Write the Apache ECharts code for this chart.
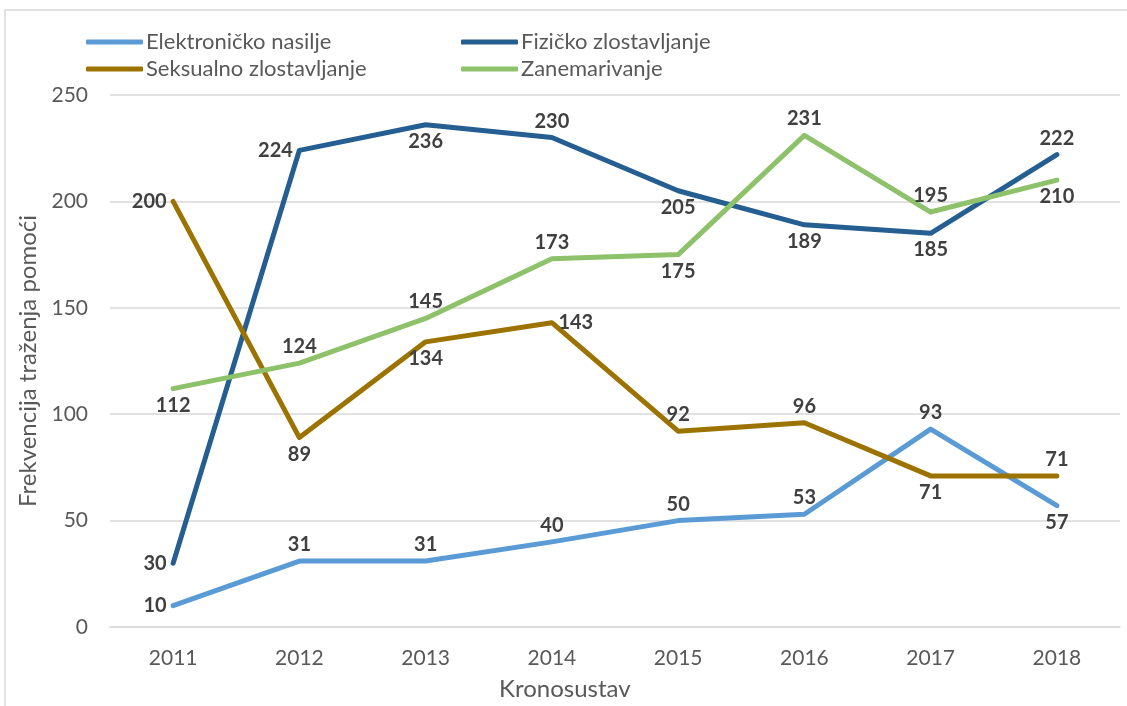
<!DOCTYPE html>
<html>
<head>
<meta charset="utf-8">
<script src="https://cdn.jsdelivr.net/npm/echarts@6/dist/echarts.min.js"></script>
<style>
  html, body { margin: 0; padding: 0; background: #fff; }
  #chart { width: 1127px; height: 706px; }
</style>
</head>
<body>
<div id="chart"></div>
<script>
const years = ['2011', '2012', '2013', '2014', '2015', '2016', '2017', '2018']
const yTicks = [0, 50, 100, 150, 200, 250]

const seriesNames = ['Elektroničko nasilje', 'Fizičko zlostavljanje', 'Seksualno zlostavljanje', 'Zanemarivanje']
const elektronicko = [10, 31, 31, 40, 50, 53, 93, 57]
const fizicko = [30, 224, 236, 230, 205, 189, 185, 222]
const seksualno = [200, 89, 134, 143, 92, 96, 71, 71]
const zanemarivanje = [112, 124, 145, 173, 175, 231, 195, 210]

// gdje stoji oznaka vrijednosti kod svake točke
const posElektronicko = ['left', 'top', 'top', 'top', 'top', 'top', 'top', 'bottom']
const posFizicko = ['left', 'left', 'bottom', 'top', 'bottom', 'bottom', 'bottom', 'top']
const posSeksualno = ['left', 'bottom', 'bottom', 'right', 'top', 'top', 'bottom', 'top']
const posZanemarivanje = ['bottom', 'top', 'top', 'top', 'bottom', 'top', 'top', 'bottom']

const colors = ['#5B9BD5', '#255E91', '#9C7300', '#8DC16A']
const font = 'Lato, "Open Sans", sans-serif'

const makeSeries = (name, values, positions, color) => ({
  name: name,
  type: 'line',
  data: values.map((v, i) => ({ value: v, label: { position: positions[i] } })),
  symbol: 'circle',
  symbolSize: 1,
  lineStyle: { width: 5, color: color, cap: 'round', join: 'round' },
  itemStyle: { color: color },
  label: {
    show: true,
    distance: 6,
    color: '#404040',
    fontFamily: font,
    fontWeight: 'bold',
    fontSize: 20
  },
  emphasis: { disabled: true },
  z: 2
})

const legendAt = (name, left, top) => ({
  data: [name],
  left: left,
  top: top,
  padding: 0,
  itemWidth: 57,
  itemHeight: 5,
  icon: 'roundRect',
  selectedMode: false,
  textStyle: { color: '#595959', fontFamily: font, fontSize: 22, lineHeight: 26, padding: [0, 0, 0, -2] }
})

const chart = echarts.init(document.getElementById('chart'))
chart.setOption({
  animation: false,
  color: colors,
  graphic: [{
    type: 'rect',
    shape: { x: 5, y: 10, width: 1130, height: 710 },
    style: { fill: 'none', stroke: '#d9d9d9', lineWidth: 1.5 },
    silent: true
  }],
  title: {
    text: 'Kronosustav',
    left: 499,
    top: 677,
    padding: 0,
    textStyle: { color: '#595959', fontFamily: font, fontSize: 24, fontWeight: 'normal' }
  },
  legend: [
    legendAt(seriesNames[0], 86, 29),
    legendAt(seriesNames[1], 461, 29),
    legendAt(seriesNames[2], 86, 56),
    legendAt(seriesNames[3], 461, 56)
  ],
  grid: { left: 110, right: 7, top: 95, bottom: 79 },
  xAxis: {
    type: 'category',
    data: years,
    boundaryGap: true,
    axisLine: { lineStyle: { color: '#d9d9d9', width: 1.5 } },
    axisTick: { show: false },
    axisLabel: { color: '#595959', fontFamily: font, fontSize: 21, margin: 21 }
  },
  yAxis: {
    type: 'value',
    min: yTicks[0],
    max: yTicks[yTicks.length - 1],
    interval: yTicks[1] - yTicks[0],
    name: 'Frekvencija traženja pomoći',
    nameLocation: 'middle',
    nameGap: 68,
    nameTextStyle: { color: '#595959', fontFamily: font, fontSize: 24 },
    axisLine: { show: false },
    axisTick: { show: false },
    splitLine: { lineStyle: { color: '#d9d9d9', width: 1.5 } },
    axisLabel: { color: '#595959', fontFamily: font, fontSize: 21, margin: 22 }
  },
  series: [
    makeSeries(seriesNames[0], elektronicko, posElektronicko, colors[0]),
    makeSeries(seriesNames[1], fizicko, posFizicko, colors[1]),
    makeSeries(seriesNames[2], seksualno, posSeksualno, colors[2]),
    makeSeries(seriesNames[3], zanemarivanje, posZanemarivanje, colors[3])
  ]
})
</script>
</body>
</html>
